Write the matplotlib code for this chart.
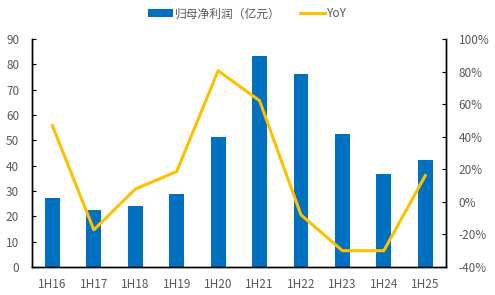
import numpy as np
import matplotlib.pyplot as plt

plt.rcParams['font.family'] = ['Noto Sans CJK SC', 'DejaVu Sans']

# data
periods = ["1H16", "1H17", "1H18", "1H19", "1H20", "1H21", "1H22", "1H23", "1H24", "1H25"]
net_profit = [27.1, 22.5, 24.1, 28.7, 51.4, 83.3, 76.1, 52.6, 36.8, 42.4]
yoy = [46.8, -17.2, 7.8, 18.6, 80.5, 62.1, -8.0, -30.0, -30.0, 16.1]

bar_color = "#0070C0"
line_color = "#FFC000"
text_color = "#595959"

fig = plt.figure(figsize=(4.95, 2.95), dpi=100)
ax = fig.add_axes([0.064, 0.095, 0.837, 0.773])
ax2 = ax.twinx()

x = np.arange(len(periods))
bars = ax.bar(x, net_profit, width=0.36, color=bar_color, zorder=2)
line, = ax2.plot(x, yoy, color=line_color, linewidth=2.2, zorder=3)

ax.set_xlim(-0.5, len(periods) - 0.5)
ax.set_ylim(0, 90)
ax.set_yticks(np.arange(0, 91, 10))
ax2.set_ylim(-40, 100)
ax2.set_yticks(np.arange(-40, 101, 20))
ax2.set_yticklabels([f"{v}%" for v in range(-40, 101, 20)])
ax.set_xticks(x)
ax.set_xticklabels(periods)

for a in (ax, ax2):
    a.spines["top"].set_visible(False)
    for s in ("left", "right", "bottom"):
        a.spines[s].set_color("black")
        a.spines[s].set_linewidth(1.0)

ax.tick_params(axis="y", direction="in", length=3, labelsize=8.5, labelcolor=text_color, pad=9)
ax.tick_params(axis="x", length=0, labelsize=8.5, labelcolor=text_color, pad=8)
ax2.tick_params(axis="y", direction="in", length=3, labelsize=8.5, labelcolor=text_color, pad=9)

fig.legend([bars, line], ["归母净利润（亿元）", "YoY"], loc="center", bbox_to_anchor=(0.5, 0.953),
           ncol=2, frameon=False, fontsize=8.5, labelcolor=text_color,
           handlelength=2.1, columnspacing=1.6, handletextpad=0.2)

fig.savefig("out.png", dpi=100)
